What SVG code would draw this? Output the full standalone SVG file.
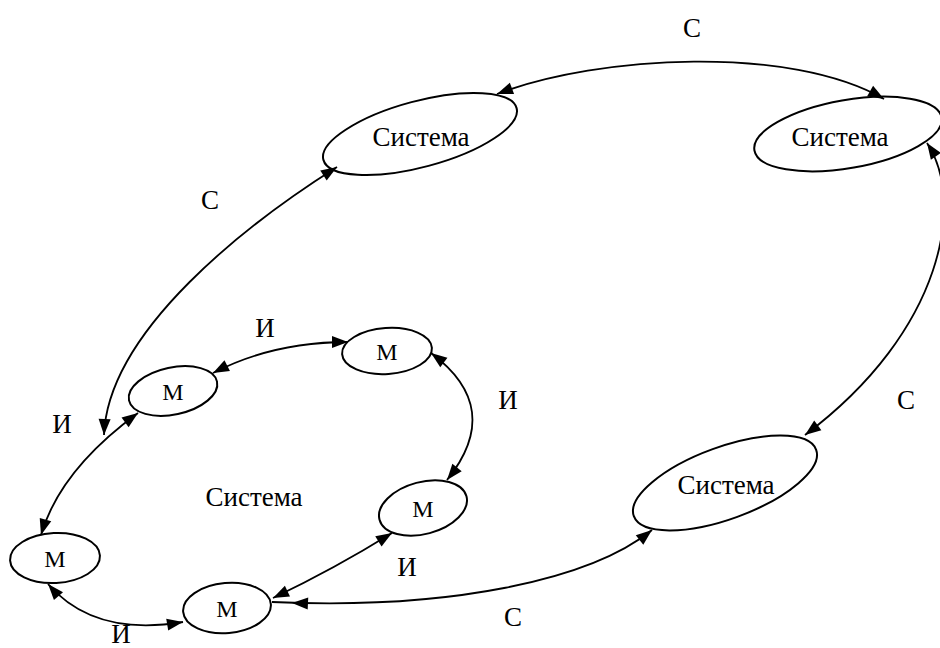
<svg xmlns="http://www.w3.org/2000/svg" width="940" height="648" viewBox="0 0 940 648">
<style>
.node ellipse{fill:none;stroke:#000;stroke-width:2}
.edge{fill:none;stroke:#000;stroke-width:1.8;marker-start:url(#ah);marker-end:url(#ah)}
text{font-family:"Liberation Serif","DejaVu Serif",serif;fill:#000;text-anchor:middle}
.big{font-size:27px}
.m{font-size:24px}
.lbl{font-size:27px}
</style>
<defs>
<marker id="ah" markerUnits="userSpaceOnUse" markerWidth="22" markerHeight="16" viewBox="-18 -8 22 16" refX="0" refY="0" orient="auto-start-reverse">
<path d="M0,0 L-16,-6 L-16,6 Z" fill="#000"/>
</marker>
<marker id="ahb" markerUnits="userSpaceOnUse" markerWidth="42" markerHeight="16" viewBox="-38 -8 42 16" refX="20" refY="0" orient="auto">
<path d="M0,0 L-16,-6 L-16,6 Z" fill="#000"/>
</marker>
</defs>
<g id="connectors">
<path id="e1" class="edge" d="M213,373 Q273,342 348,342"/>
<path id="e2" class="edge" d="M431,353 Q505,408 447,480"/>
<path id="e3" class="edge" d="M392,533 Q334,569 273,598"/>
<path id="e4" class="edge" d="M48,584 Q94,637 183,622"/>
<path id="e5" class="edge" d="M41,535 Q60,470 138,413"/>
<path id="e6" class="edge" d="M337,167 C250,222 108,330 104,435"/>
<path id="e7" class="edge" d="M497,94 C600,55 790,45 884,99"/>
<path id="e8" class="edge" d="M927,143 C965,200 945,330 805,435"/>
<path id="e9" class="edge" d="M652,530 C590,580 450,610 272,602" style="marker-end:url(#ahb)"/>
</g>
<g id="n-sys1" class="node"><ellipse cx="420" cy="134" rx="100" ry="33" transform="rotate(-15 420 134)"/><text class="big" x="421" y="146">Система</text></g>
<g id="n-sys2" class="node"><ellipse cx="848" cy="134" rx="95" ry="34" transform="rotate(-10 848 134)"/><text class="big" x="840" y="146">Система</text></g>
<g id="n-sys3" class="node"><ellipse cx="725" cy="483" rx="97" ry="36" transform="rotate(-20 725 483)"/><text class="big" x="726" y="494">Система</text></g>
<g id="n-m1" class="node"><ellipse cx="387" cy="351" rx="45" ry="23" transform="rotate(-4 387 351)"/><text class="m" x="387" y="360">М</text></g>
<g id="n-m2" class="node"><ellipse cx="173" cy="391" rx="45" ry="23.5" transform="rotate(-12 173 391)"/><text class="m" x="173" y="400">М</text></g>
<g id="n-m3" class="node"><ellipse cx="423" cy="508" rx="45" ry="26" transform="rotate(-15 423 508)"/><text class="m" x="423" y="517">М</text></g>
<g id="n-m4" class="node"><ellipse cx="227" cy="608" rx="44" ry="25" transform="rotate(-5 227 608)"/><text class="m" x="227" y="617">М</text></g>
<g id="n-m5" class="node"><ellipse cx="55" cy="558" rx="45" ry="25" transform="rotate(-3 55 558)"/><text class="m" x="55" y="567">М</text></g>
<g id="labels">
<text class="big" x="254" y="506">Система</text>
<text class="lbl" x="692" y="37">С</text>
<text class="lbl" x="210" y="209">С</text>
<text class="lbl" x="906" y="409">С</text>
<text class="lbl" x="513" y="626">С</text>
<text class="lbl" x="265" y="337">И</text>
<text class="lbl" x="62" y="433">И</text>
<text class="lbl" x="508" y="409">И</text>
<text class="lbl" x="407" y="576">И</text>
<text class="lbl" x="121" y="643">И</text>
</g>
</svg>
